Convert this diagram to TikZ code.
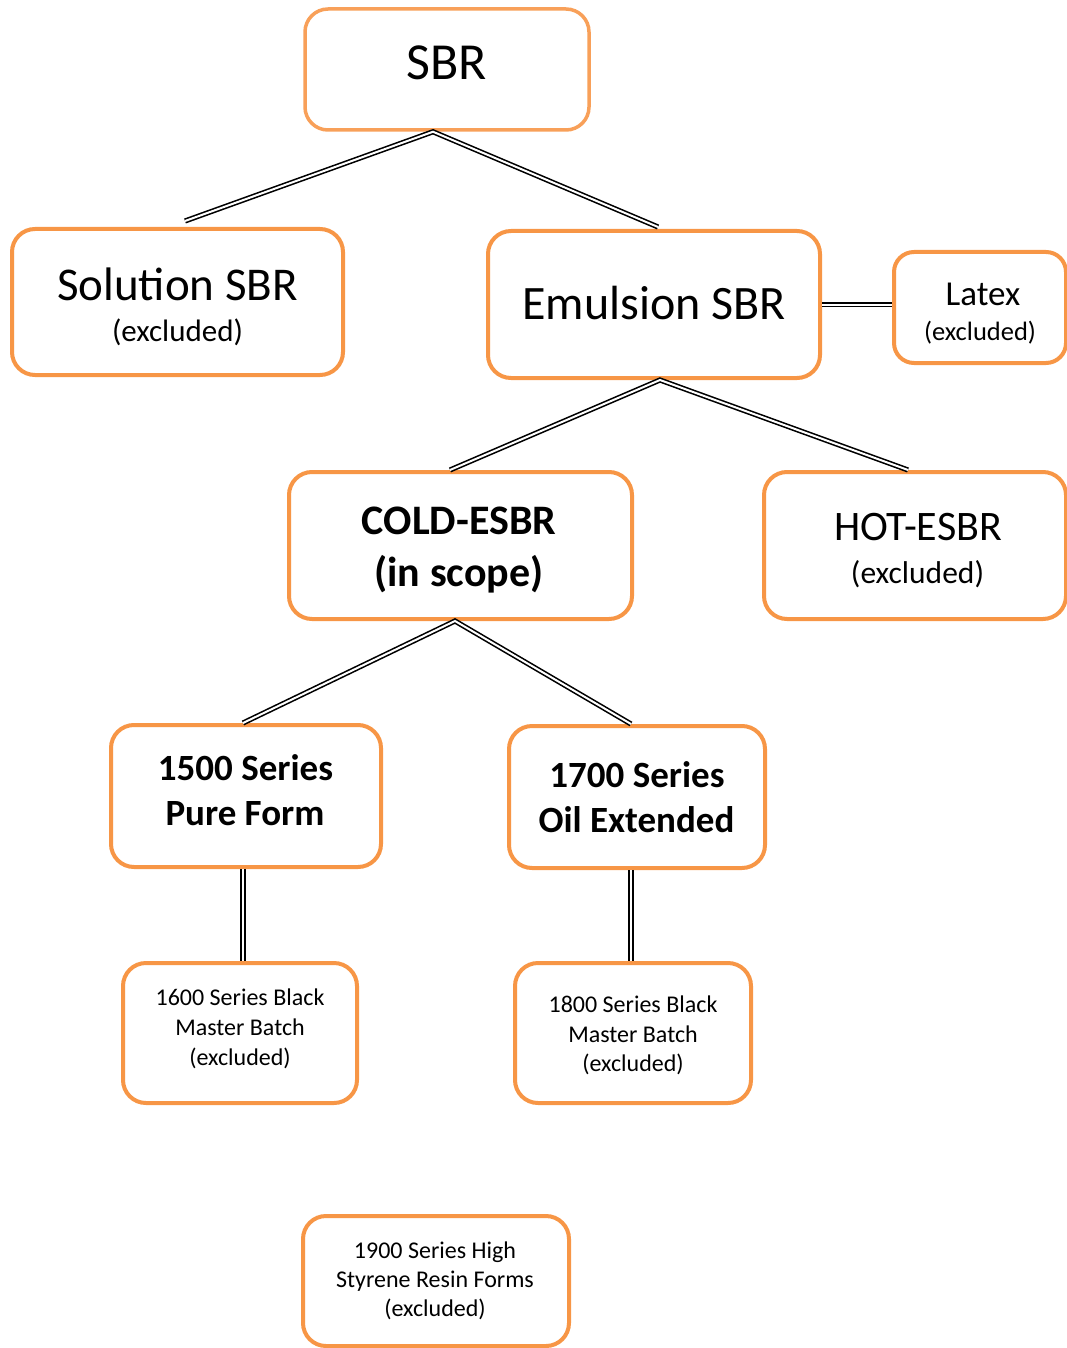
\documentclass[tikz,border=0pt]{standalone}
\usepackage{fontspec}
\setmainfont{Carlito}
\definecolor{boxor}{HTML}{F79646}
\newcommand\fsz[1]{\fontsize{#1}{#1}\selectfont}
\begin{document}
\begin{tikzpicture}[x=1pt,y=-1pt,
  box/.style={draw=boxor, line width=4pt, rounded corners=23pt, fill=white, inner sep=0pt},
  txt/.style={anchor=base, inner sep=0pt, text=black},
  dbl/.style={draw=black, line width=1.6pt, double=white, double distance=2pt}]
\useasboundingbox (0,0) rectangle (1067,1348);
% boxes
\node[box, draw=boxor!90, line width=3.5pt, minimum width=284pt, minimum height=121pt] (sbr) at (447,69.5) {};
\node[box, minimum width=331pt, minimum height=146pt] (sol) at (177.5,302) {};
\node[box, minimum width=332pt, minimum height=147pt] (emu) at (654,304.5) {};
\node[box, rounded corners=20pt, minimum width=172pt, minimum height=111pt] (lat) at (980,307.5) {};
\node[box, minimum width=343pt, minimum height=147pt] (cold) at (460.5,545.5) {};
\node[box, minimum width=302pt, minimum height=147pt] (hot) at (915,545.5) {};
\node[box, minimum width=270pt, minimum height=142pt] (p15) at (246,796) {};
\node[box, minimum width=256pt, minimum height=142pt] (p17) at (637,797) {};
\node[box, minimum width=234pt, minimum height=140pt] (p16) at (240,1033) {};
\node[box, minimum width=236pt, minimum height=140pt] (p18) at (633,1033) {};
\node[box, minimum width=266pt, minimum height=130pt] (p19) at (436,1281) {};
% texts
\node[txt, font=\fsz{52}] (sbrT) at (447,80) {SBR};
\node[txt, font=\fsz{47}] (solT1) at (177.5,300) {Solution SBR};
\node[txt, font=\fsz{31}] (solT2) at (177.5,341) {(excluded)};
\node[txt, font=\fsz{48}] (emuT) at (654,319) {Emulsion SBR};
\node[txt, font=\fsz{35}] (latT1) at (983,305) {Latex};
\node[txt, font=\fsz{26.5}] (latT2) at (980,340) {(excluded)};
\node[txt, font=\fsz{42}\bfseries] (coldT1) at (459,534) {COLD-ESBR};
\node[txt, font=\fsz{42}\bfseries] (coldT2) at (459,586) {(in scope)};
\node[txt, font=\fsz{42}] (hotT1) at (918,540) {HOT-ESBR};
\node[txt, font=\fsz{31.5}] (hotT2) at (917.5,583) {(excluded)};
\node[txt, font=\fsz{37}\bfseries] (p15T1) at (245.5,780) {1500 Series};
\node[txt, font=\fsz{37}\bfseries] (p15T2) at (245,825) {Pure Form};
\node[txt, font=\fsz{37}\bfseries] (p17T1) at (637,787) {1700 Series};
\node[txt, font=\fsz{37}\bfseries] (p17T2) at (636.5,832) {Oil Extended};
\node[txt, font=\fsz{24}] (p16T1) at (240,1005) {1600 Series Black};
\node[txt, font=\fsz{24}] (p16T2) at (240,1035) {Master Batch};
\node[txt, font=\fsz{24}] (p16T3) at (240,1065) {(excluded)};
\node[txt, font=\fsz{24}] (p18T1) at (633,1012) {1800 Series Black};
\node[txt, font=\fsz{24}] (p18T2) at (633,1042) {Master Batch};
\node[txt, font=\fsz{24}] (p18T3) at (633,1071) {(excluded)};
\node[txt, font=\fsz{24}] (p19T1) at (435,1258) {1900 Series High};
\node[txt, font=\fsz{24}] (p19T2) at (435,1287) {Styrene Resin Forms};
\node[txt, font=\fsz{24}] (p19T3) at (435,1316) {(excluded)};
% connectors
\draw[dbl] ([xshift=7.5pt,yshift=6pt]sol.north) -- ([xshift=-14pt]sbr.south) -- ([xshift=4pt,yshift=2pt]emu.north);
\draw[dbl] ([xshift=-10.5pt]cold.north) -- ([xshift=6pt]emu.south) -- ([xshift=-7pt]hot.north);
\draw[dbl] ([xshift=-3pt]p15.north) -- ([xshift=-5.5pt]cold.south) -- ([xshift=-6pt]p17.north);
\draw[dbl] ([xshift=-3pt]p15.south) -- ([xshift=-3pt]p15.south |- p16.north);
\draw[dbl] ([xshift=-6pt]p17.south) -- ([xshift=-6pt]p17.south |- p18.north);
\draw[dbl] (emu.east) -- (emu.east -| lat.west);
\end{tikzpicture}
\end{document}
